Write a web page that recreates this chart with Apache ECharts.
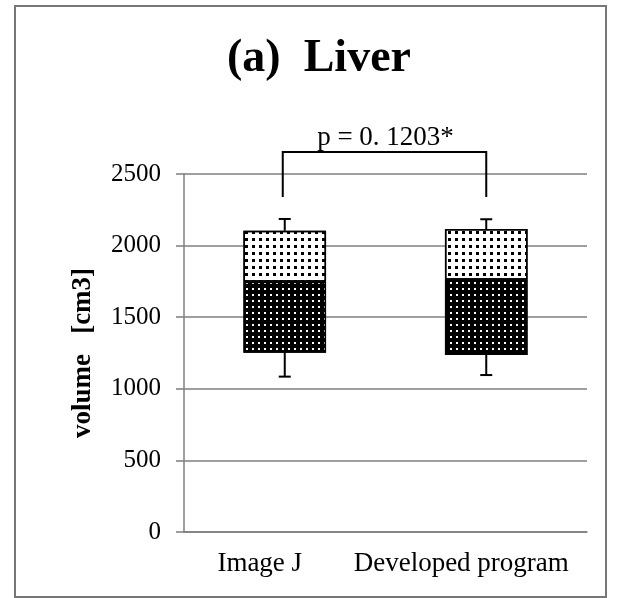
<!DOCTYPE html>
<html>
<head>
<meta charset="utf-8">
<script src="https://cdn.jsdelivr.net/npm/echarts@6/dist/echarts.min.js"></script>
<style>
html,body{margin:0;padding:0;background:#fff;}
#chart{width:618px;height:598px;}
</style>
</head>
<body>
<div id="chart"></div>
<script>
// ---- data ----
const categories = ['Image J', 'Developed program'];
const boxLow = [1252, 1236];
const boxMid = [1748, 1762];
const boxHigh = [2104, 2116];
const whiskerLow = [1085, 1096];
const whiskerHigh = [2186, 2184];
const bracketTop = 2654;
const bracketLegBottom = 2339;
const pLabel = 'p = 0. 1203*';
const titleText = '(a)  Liver';
const yName = 'volume   [cm3]';
const yMin = 0, yMax = 2500, yInterval = 500;

const FONT = "'Liberation Serif', 'Times New Roman', serif";

const baseVals = boxLow.slice();
const lowerVals = boxMid.map((v, i) => v - boxLow[i]);
const upperVals = boxHigh.map((v, i) => v - boxMid[i]);

const chart = echarts.init(document.getElementById('chart'), null, {renderer: 'canvas'});

const option = {
  backgroundColor: '#fff',
  animation: false,
  title: {
    text: titleText,
    left: 314,
    textAlign: 'center',
    top: 31,
    textStyle: {fontFamily: FONT, fontWeight: 'bold', fontSize: 46, color: '#000'}
  },
  graphic: [{
    type: 'rect',
    shape: {x: 15, y: 6, width: 591, height: 591},
    style: {fill: 'none', stroke: '#777', lineWidth: 2},
    silent: true
  }],
  grid: {left: 184, right: 31, top: 174, bottom: 66},
  xAxis: {
    type: 'category',
    data: categories,
    axisLine: {show: true, lineStyle: {color: '#7f7f7f', width: 1.5}},
    axisTick: {show: false},
    axisLabel: {interval: 0, hideOverlap: false, fontFamily: FONT, fontSize: 27, color: '#000', margin: 18, padding: [0, 50, 0, 0]},
    splitLine: {show: false}
  },
  yAxis: {
    type: 'value',
    min: yMin, max: yMax, interval: yInterval,
    name: yName,
    nameLocation: 'middle',
    nameGap: 87,
    nameRotate: 90,
    nameTextStyle: {fontFamily: FONT, fontWeight: 'bold', fontSize: 27, color: '#000'},
    axisLine: {show: true, lineStyle: {color: '#7f7f7f', width: 1.5}},
    axisTick: {show: true, inside: false, length: 8, lineStyle: {color: '#7f7f7f', width: 1.5}},
    axisLabel: {fontFamily: FONT, fontSize: 25, color: '#000', margin: 23, formatter: function (v) { return String(v); }},
    splitLine: {show: true, lineStyle: {color: '#7f7f7f', width: 1.5}}
  },
  series: [
    {
      type: 'bar', stack: 'box', data: baseVals, barWidth: '41%',
      itemStyle: {color: 'rgba(0,0,0,0)'}, silent: true
    },
    {
      type: 'bar', stack: 'box', data: lowerVals, barWidth: '41%',
      itemStyle: {
        color: '#000', borderColor: '#000', borderWidth: 1.5,
        decal: {symbol: 'rect', symbolSize: 1, color: '#fff', backgroundColor: 'rgba(0,0,0,0)',
                dashArrayX: [2, 4], dashArrayY: [2, 4]}
      },
      silent: true
    },
    {
      type: 'bar', stack: 'box', data: upperVals, barWidth: '41%',
      itemStyle: {
        color: '#fff', borderColor: '#000', borderWidth: 1.5,
        decal: {symbol: 'rect', symbolSize: 1, color: '#000', backgroundColor: 'rgba(0,0,0,0)',
                dashArrayX: [2.5, 3.5], dashArrayY: [2.5, 3.5]}
      },
      silent: true
    },
    {
      type: 'custom',
      data: categories.map((c, i) => [i, boxLow[i], whiskerLow[i], boxHigh[i], whiskerHigh[i]]),
      renderItem: function (params, api) {
        const x = api.value(0);
        const pBL = api.coord([x, api.value(1)]);
        const pWL = api.coord([x, api.value(2)]);
        const pBH = api.coord([x, api.value(3)]);
        const pWH = api.coord([x, api.value(4)]);
        const half = 6;
        const st = {stroke: '#000', lineWidth: 2};
        return {
          type: 'group',
          children: [
            {type: 'line', shape: {x1: pBL[0], y1: pBL[1], x2: pWL[0], y2: pWL[1]}, style: st},
            {type: 'line', shape: {x1: pWL[0] - half, y1: pWL[1], x2: pWL[0] + half, y2: pWL[1]}, style: st},
            {type: 'line', shape: {x1: pBH[0], y1: pBH[1], x2: pWH[0], y2: pWH[1]}, style: st},
            {type: 'line', shape: {x1: pWH[0] - half, y1: pWH[1], x2: pWH[0] + half, y2: pWH[1]}, style: st}
          ]
        };
      },
      z: 5, silent: true
    },
    {
      type: 'custom',
      data: [[0, 1, bracketTop, bracketLegBottom]],
      renderItem: function (params, api) {
        const a = api.coord([api.value(0), api.value(2)]);
        const b = api.coord([api.value(1), api.value(2)]);
        const a2 = api.coord([api.value(0), api.value(3)]);
        const b2 = api.coord([api.value(1), api.value(3)]);
        const st = {stroke: '#000', lineWidth: 2, fill: 'none'};
        return {
          type: 'group',
          children: [
            {type: 'polyline', shape: {points: [[a2[0] - 2, a2[1]], [a[0] - 2, a[1]], [b[0], b[1]], [b2[0], b2[1]]]}, style: st},
            {type: 'text', x: (a[0] + b[0]) / 2, y: a[1] - 1,
             style: {text: pLabel, fontFamily: FONT, fontSize: 27, fill: '#000', align: 'center', verticalAlign: 'bottom'}}
          ]
        };
      },
      z: 5, silent: true
    }
  ]
};
chart.setOption(option);
</script>
</body>
</html>
